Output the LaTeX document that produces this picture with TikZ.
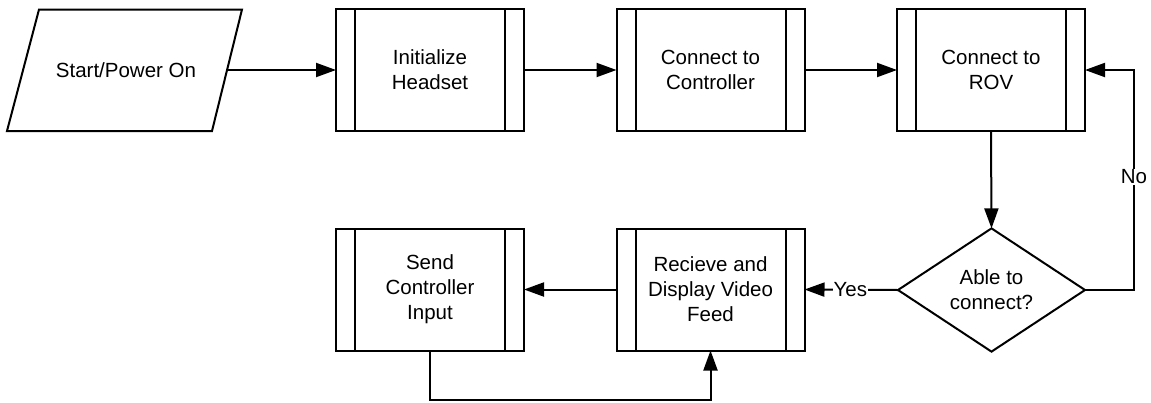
\documentclass[tikz,border=0pt]{standalone}
\usepackage{fontspec}
\setmainfont{Liberation Sans}
\usetikzlibrary{shapes.geometric,arrows.meta}
\begin{document}
\begin{tikzpicture}[x=1pt,y=-1pt,
  every node/.style={font=\fontsize{20.5}{25}\selectfont, align=center, outer sep=0pt, inner sep=0pt},
  subproc/.style={draw, line width=2pt, rectangle, minimum width=188pt, minimum height=122pt},
  decision/.style={draw, line width=2pt, diamond, minimum width=187pt, minimum height=122pt},
  conn/.style={line width=2pt, -{Triangle[length=20pt,width=14pt]}},
  lbl/.style={fill=white, inner sep=1pt}]
\useasboundingbox (0,0) rectangle (1151,402);
\draw[line width=2pt, line join=miter] (39,9.5) -- (242,9.5) -- (212,131) -- (7,131) -- cycle;
\node (start) at (126,70) {Start/Power On};
\coordinate (startr) at (227,70);
\node[subproc] (b1) at (430,70) {Initialize\\Headset};
\node[subproc] (b2) at (710.5,70) {Connect to\\Controller};
\node[subproc] (b3) at (991,70) {Connect to\\ROV};
\node[decision] (d) at (991.5,290) {Able to\\connect?};
\node[subproc] (b4) at (710.5,289.5) {Recieve and\\Display Video\\Feed};
\node[subproc] (b5) at (430,289.5) {Send\\Controller\\Input};
\foreach \n in {b1,b2,b3,b4,b5}{
  \draw[line width=2pt] ([xshift=19pt]\n.north west) -- ([xshift=19pt]\n.south west);
  \draw[line width=2pt] ([xshift=-19pt]\n.north east) -- ([xshift=-19pt]\n.south east);
}
\coordinate (nc1) at (1134,290);
\coordinate (nc2) at (1134,70);
\coordinate (lc1) at (430,400);
\coordinate (lc2) at (710.5,400);
\draw[conn] (startr) -- (b1.west);
\draw[conn] (b1.east) -- (b2.west);
\draw[conn] (b2.east) -- (b3.west);
\draw[conn] (b3.south) -- (d.north);
\draw[conn] (d.east) -- (nc1) -- node[lbl, pos=0.515]{No} (nc2) -- (b3.east);
\draw[conn] (d.west) -- node[lbl, pos=0.51]{Yes} (b4.east);
\draw[conn] (b4.west) -- (b5.east);
\draw[conn] (b5.south) -- (lc1) -- (lc2) -- (b4.south);
\end{tikzpicture}
\end{document}
